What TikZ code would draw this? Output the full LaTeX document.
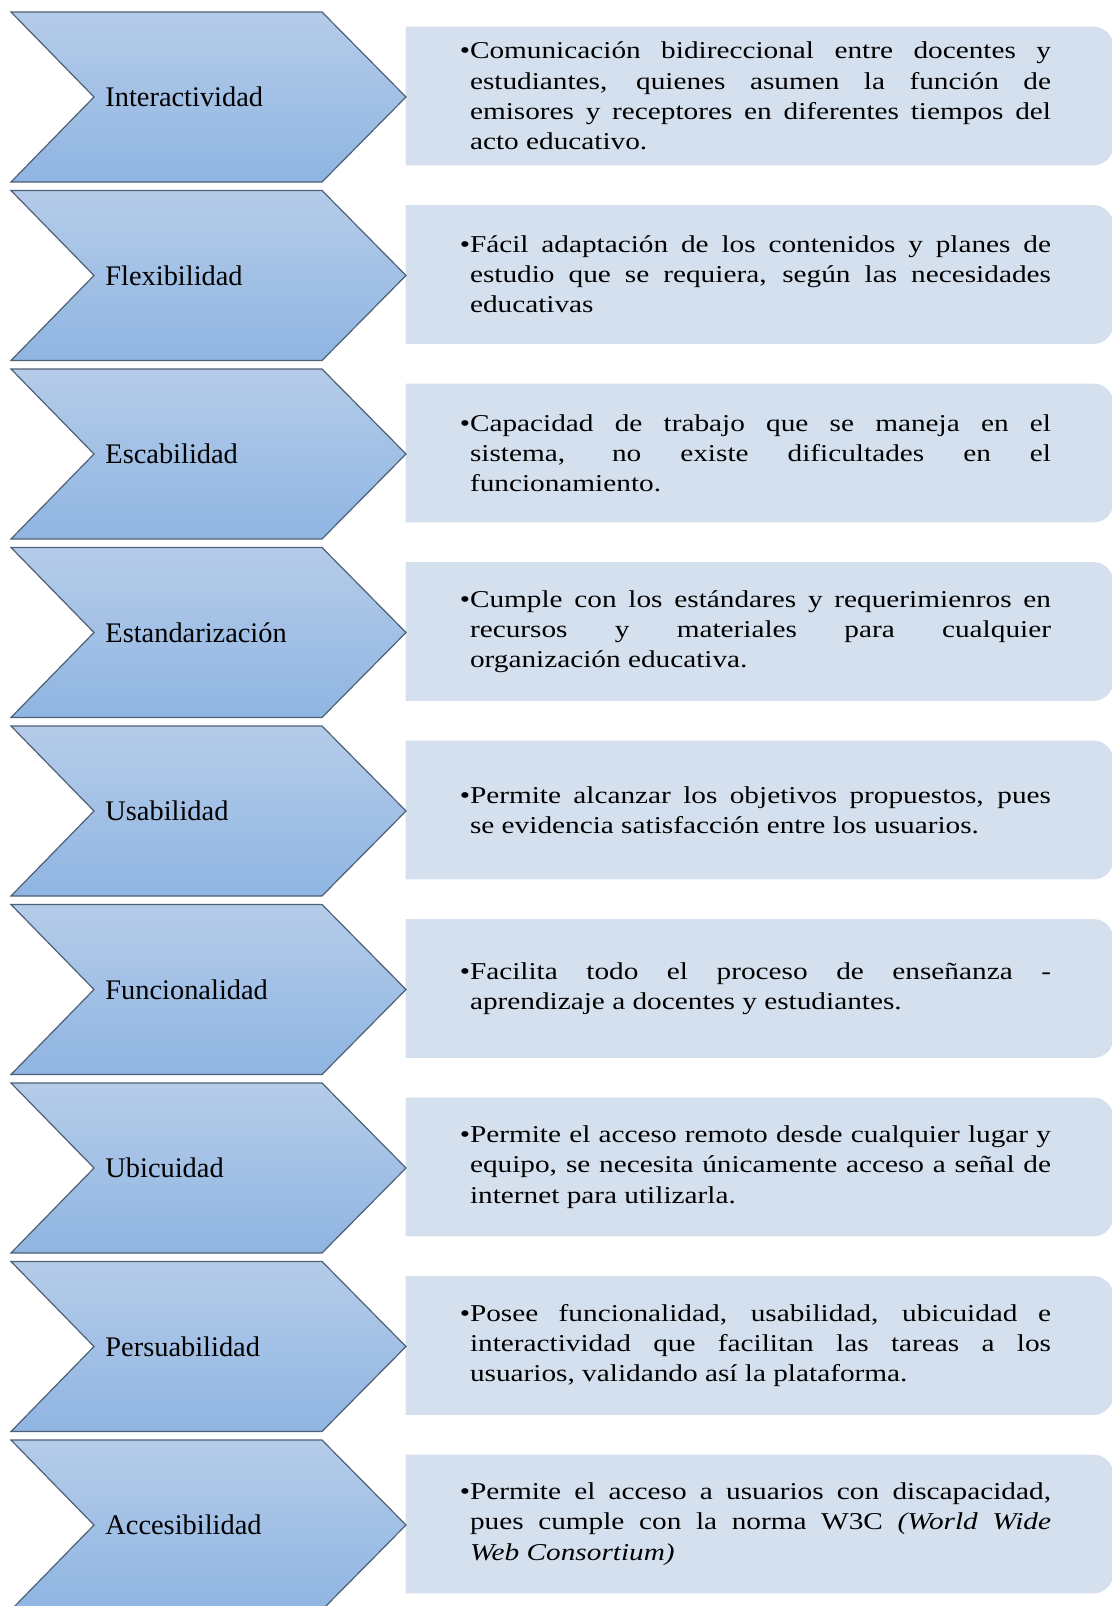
\documentclass[tikz,border=0pt]{standalone}
\usepackage{fontspec}
\setmainfont{Liberation Serif}
\newfontfamily\bodyfont{Liberation Serif}[FakeStretch=1.21]
\usepackage{tikz}
\usetikzlibrary{calc,positioning,backgrounds}
\definecolor{chevtop}{RGB}{181,204,233}
\definecolor{chevbot}{RGB}{143,181,226}
\definecolor{chevline}{RGB}{78,96,118}
\definecolor{boxfill}{RGB}{213,224,239}

\begin{document}
\begin{tikzpicture}[x=0.5pt,y=-0.5pt,
		chev/.style={draw=chevline,line width=0.6pt,top color=chevtop,bottom color=chevbot},
		lab/.style={anchor=west,inner sep=0pt,font=\fontsize{14.2}{17}\selectfont},
		box/.style={inner sep=0pt,minimum height=69pt,minimum width=352.5pt,text width=290.5pt,align=justify,font=\bodyfont\fontsize{12.1}{15.1}\selectfont},
		boxbg/.style={fill=boxfill}]
		\useasboundingbox (0,0) rectangle (1112,1606);
		\clip (0,0) rectangle (1112,1606);
		% chevrons
		\draw[chev] (11,12) -- (322,12) -- (406,97) -- (322,182) -- (11,182) -- (94,97) -- cycle;
		\draw[chev] (11,190.5) -- (322,190.5) -- (406,275.5) -- (322,360.5) -- (11,360.5) -- (94,275.5) -- cycle;
		\draw[chev] (11,369) -- (322,369) -- (406,454) -- (322,539) -- (11,539) -- (94,454) -- cycle;
		\draw[chev] (11,547.5) -- (322,547.5) -- (406,632.5) -- (322,717.5) -- (11,717.5) -- (94,632.5) -- cycle;
		\draw[chev] (11,726) -- (322,726) -- (406,811) -- (322,896) -- (11,896) -- (94,811) -- cycle;
		\draw[chev] (11,904.5) -- (322,904.5) -- (406,989.5) -- (322,1074.5) -- (11,1074.5) -- (94,989.5) -- cycle;
		\draw[chev] (11,1083) -- (322,1083) -- (406,1168) -- (322,1253) -- (11,1253) -- (94,1168) -- cycle;
		\draw[chev] (11,1261.5) -- (322,1261.5) -- (406,1346.5) -- (322,1431.5) -- (11,1431.5) -- (94,1346.5) -- cycle;
		\draw[chev] (11,1440) -- (322,1440) -- (406,1525) -- (322,1610) -- (11,1610) -- (94,1525) -- cycle;
		% labels
		\node(1) [lab] at (105,97) {Interactividad};
		\node(2) [lab] at (105,275.5) {Flexibilidad};
		\node(3) [lab] at (105,454) {Escabilidad};
		\node(4) [lab] at (105,632.5) {Estandarización};
		\node(5) [lab] at (105,811) {Usabilidad};
		\node(6) [lab] at (105,989.5) {Funcionalidad};
		\node(7) [lab] at (105,1168) {Ubicuidad};
		\node(8) [lab] at (105,1346.5) {Persuabilidad};
		\node(9) [lab] at (105,1525) {Accesibilidad};
		% texts
		\node(1t) [box] at (760.5,96) {\llap{•}Comunicación bidireccional entre docentes y\linebreak estudiantes, quienes asumen la función de\linebreak emisores y receptores en diferentes tiempos del\linebreak acto educativo.};
		\node(2t) [box] at (760.5,274.5) {\llap{•}Fácil adaptación de los contenidos y planes de\linebreak estudio que se requiera, según las necesidades\linebreak educativas};
		\node(3t) [box] at (760.5,453) {\llap{•}Capacidad de trabajo que se maneja en el\linebreak sistema, no existe dificultades en el\linebreak funcionamiento.};
		\node(4t) [box] at (760.5,631.5) {\llap{•}Cumple con los estándares y requerimienros en\linebreak recursos y materiales para cualquier\linebreak organización educativa.};
		\node(5t) [box] at (760.5,810) {\llap{•}Permite alcanzar los objetivos propuestos, pues\linebreak se evidencia satisfacción entre los usuarios.};
		\node(6t) [box] at (760.5,988.5) {\llap{•}Facilita todo el proceso de enseñanza -\linebreak aprendizaje a docentes y estudiantes.};
		\node(7t) [box] at (760.5,1167) {\llap{•}Permite el acceso remoto desde cualquier lugar y\linebreak equipo, se necesita únicamente acceso a señal de\linebreak internet para utilizarla.};
		\node(8t) [box] at (760.5,1345.5) {\llap{•}Posee funcionalidad, usabilidad, ubicuidad e\linebreak interactividad que facilitan las tareas a los\linebreak usuarios, validando así la plataforma.};
		\node(9t) [box] at (760.5,1524) {\llap{•}Permite el acceso a usuarios con discapacidad,\linebreak pues cumple con la norma W3C \textit{(World Wide\linebreak Web Consortium)}};
		\begin{scope}[on background layer]
			\fill[boxbg] ([xshift=-1pt]1t.south west) -- ([xshift=-1pt]1t.north west) [rounded corners=10pt] -- (1t.north east) -- (1t.south east) [sharp corners] -- cycle;
			\fill[boxbg] ([xshift=-1pt]2t.south west) -- ([xshift=-1pt]2t.north west) [rounded corners=10pt] -- (2t.north east) -- (2t.south east) [sharp corners] -- cycle;
			\fill[boxbg] ([xshift=-1pt]3t.south west) -- ([xshift=-1pt]3t.north west) [rounded corners=10pt] -- (3t.north east) -- (3t.south east) [sharp corners] -- cycle;
			\fill[boxbg] ([xshift=-1pt]4t.south west) -- ([xshift=-1pt]4t.north west) [rounded corners=10pt] -- (4t.north east) -- (4t.south east) [sharp corners] -- cycle;
			\fill[boxbg] ([xshift=-1pt]5t.south west) -- ([xshift=-1pt]5t.north west) [rounded corners=10pt] -- (5t.north east) -- (5t.south east) [sharp corners] -- cycle;
			\fill[boxbg] ([xshift=-1pt]6t.south west) -- ([xshift=-1pt]6t.north west) [rounded corners=10pt] -- (6t.north east) -- (6t.south east) [sharp corners] -- cycle;
			\fill[boxbg] ([xshift=-1pt]7t.south west) -- ([xshift=-1pt]7t.north west) [rounded corners=10pt] -- (7t.north east) -- (7t.south east) [sharp corners] -- cycle;
			\fill[boxbg] ([xshift=-1pt]8t.south west) -- ([xshift=-1pt]8t.north west) [rounded corners=10pt] -- (8t.north east) -- (8t.south east) [sharp corners] -- cycle;
			\fill[boxbg] ([xshift=-1pt]9t.south west) -- ([xshift=-1pt]9t.north west) [rounded corners=10pt] -- (9t.north east) -- (9t.south east) [sharp corners] -- cycle;
		\end{scope}
	\end{tikzpicture}
\end{document}
